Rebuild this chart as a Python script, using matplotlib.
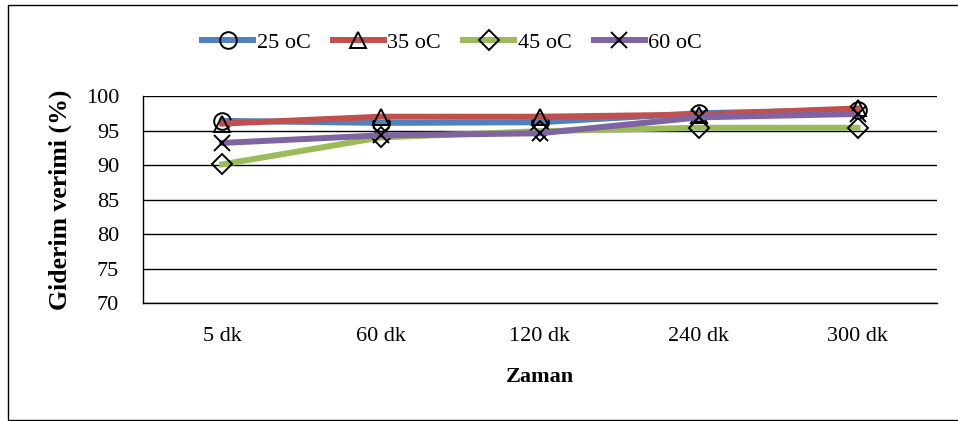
import matplotlib.pyplot as plt
from matplotlib.patches import Rectangle

zaman = ["5 dk", "60 dk", "120 dk", "240 dk", "300 dk"]
verim_25 = [96.4, 96.1, 96.2, 97.5, 98.0]
verim_35 = [96.0, 97.0, 97.0, 97.3, 98.2]
verim_45 = [90.1, 94.0, 94.9, 95.4, 95.4]
verim_60 = [93.2, 94.3, 94.6, 96.9, 97.4]

plt.rcParams["font.family"] = ["Liberation Serif", "DejaVu Serif"]

fig = plt.figure(figsize=(9.58, 4.21), dpi=100)
ax = fig.add_axes([0.149, 0.280, 0.829, 0.492])

seriler = [
    (verim_25, "25 oC", "#4F81BD", "o"),
    (verim_35, "35 oC", "#C0504D", "^"),
    (verim_45, "45 oC", "#9BBB59", "D"),
    (verim_60, "60 oC", "#8064A2", "x"),
]

x = range(len(zaman))
for degerler, etiket, renk, isaret in seriler:
    boyut = 10 if isaret == "D" else 12
    ax.plot(x, degerler, color=renk, lw=4.3, label=etiket,
            marker=isaret, markersize=boyut, markerfacecolor="none",
            markeredgecolor="black", markeredgewidth=1.4, zorder=3)

ax.set_xlim(-0.5, len(zaman) - 0.5)
ax.set_ylim(70, 100)
ax.set_yticks(range(70, 101, 5))
ax.set_xticks(list(x))
ax.set_xticklabels(zaman)
ax.tick_params(axis="both", length=0, labelsize=16, colors="black")
ax.tick_params(axis="x", pad=17)
ax.tick_params(axis="y", pad=17)
ax.yaxis.grid(True, color="black", lw=1.0)
ax.set_axisbelow(True)
for k in ["top", "right"]:
    ax.spines[k].set_visible(False)
ax.spines["left"].set_linewidth(1.0)
ax.spines["bottom"].set_linewidth(1.0)

ax.set_ylabel("Giderim verimi (%)", fontsize=18.5, fontweight="bold", labelpad=10)
ax.set_xlabel("Zaman", fontsize=16, fontweight="bold", labelpad=15)

ax.legend(loc="center", bbox_to_anchor=(0.472, 0.898), bbox_transform=fig.transFigure,
          ncol=4, frameon=False, fontsize=16, handlelength=2.3,
          handletextpad=0.15, columnspacing=1.0)

# çerçeve
fig.patches.append(Rectangle((0.008, 0.003), 1.1, 0.985, transform=fig.transFigure,
                             fill=False, edgecolor="black", lw=1.0))

fig.savefig("out.png", dpi=100)
